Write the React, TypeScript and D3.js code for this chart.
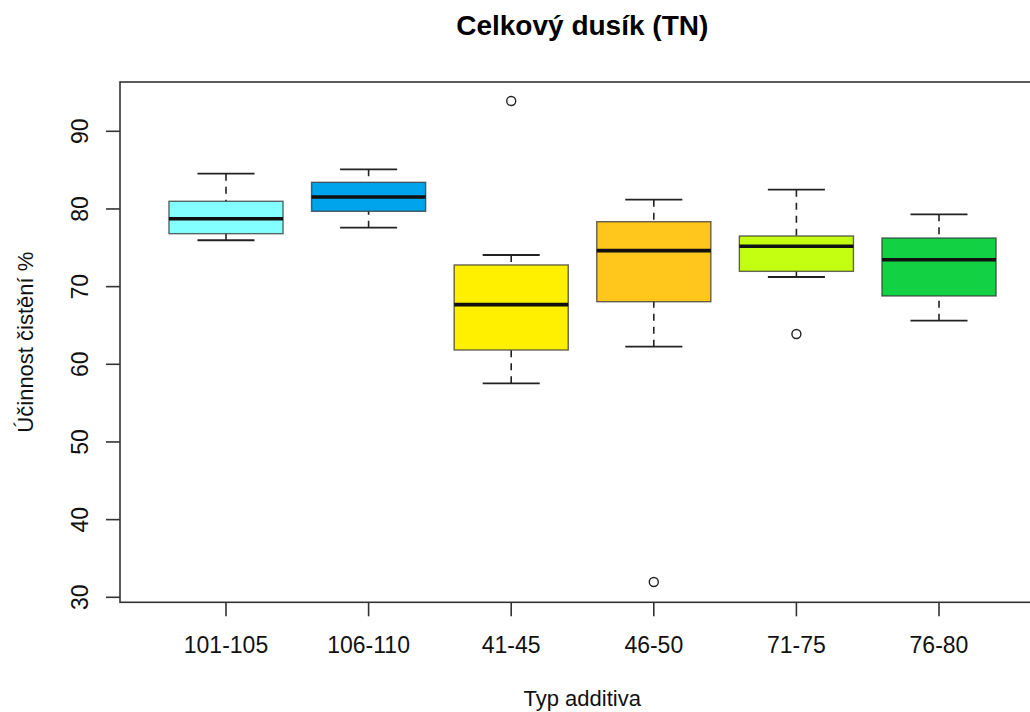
import React from "react";
import * as d3 from "d3";

const categories = ["101-105", "106-110", "41-45", "46-50", "71-75", "76-80"];
const lowerWhisker = [75.97, 77.59, 57.55, 62.27, 71.24, 65.62];
const q1 = [76.82, 79.7, 61.84, 68.06, 71.97, 68.8];
const median = [78.75, 81.54, 67.68, 74.63, 75.19, 73.47];
const q3 = [80.99, 83.43, 72.79, 78.36, 76.52, 76.26];
const upperWhisker = [84.54, 85.11, 74.07, 81.2, 82.48, 79.31];
const outliers: number[][] = [[], [], [93.9], [31.97], [63.9], []];
const boxColors = ["#84FFFF", "#00A4EC", "#FFF000", "#FFC61C", "#C4FF12", "#12D244"];
const yTicks = [30, 40, 50, 60, 70, 80, 90];

const title = "Celkový dusík (TN)";
const xLabel = "Typ additiva";
const yLabel = "Účinnost čistění %";

export default function App() {
  const W = 1030;
  const H = 712;
  const left = 120;
  const top = 82;
  const bottom = 602.3;
  const font = "'Liberation Sans', Arial, sans-serif";

  const y = d3.scaleLinear().domain([30, 90]).range([597.3, 131.3]);
  const x = d3.scalePoint<string>().domain(categories).range([226, 939]);
  const step = x.step();
  const right = (x(categories[categories.length - 1]) as number) + 0.74 * step;
  const boxW = 0.8 * step;
  const capW = 0.4 * step;

  return (
    <svg
      width={W}
      height={H}
      style={{ position: "absolute", left: 0, top: 0, background: "#fff" }}
      fontFamily={font}
    >
      <rect x={0} y={0} width={W} height={H} fill="#fff" />
      <text x={(left + right) / 2} y={35} textAnchor="middle" fontSize={28} fontWeight="bold" fill="#000">
        {title}
      </text>

      {categories.map((c, i) => {
        const cx = x(c) as number;
        return (
          <g key={c}>
            <line x1={cx} x2={cx} y1={y(upperWhisker[i])} y2={y(q3[i])} stroke="#222" strokeWidth={1.6} strokeDasharray="7,6" />
            <line x1={cx} x2={cx} y1={y(lowerWhisker[i])} y2={y(q1[i])} stroke="#222" strokeWidth={1.6} strokeDasharray="7,6" />
            <line x1={cx - capW / 2} x2={cx + capW / 2} y1={y(upperWhisker[i])} y2={y(upperWhisker[i])} stroke="#222" strokeWidth={1.8} />
            <line x1={cx - capW / 2} x2={cx + capW / 2} y1={y(lowerWhisker[i])} y2={y(lowerWhisker[i])} stroke="#222" strokeWidth={1.8} />
            <rect
              x={cx - boxW / 2}
              y={y(q3[i])}
              width={boxW}
              height={y(q1[i]) - y(q3[i])}
              fill={boxColors[i]}
              stroke="#333"
              strokeOpacity={0.75}
              strokeWidth={1.4}
            />
            <line x1={cx - boxW / 2} x2={cx + boxW / 2} y1={y(median[i])} y2={y(median[i])} stroke="#111" strokeWidth={3.6} />
            {outliers[i].map((o, j) => (
              <circle key={j} cx={cx} cy={y(o)} r={4.5} fill="none" stroke="#222" strokeWidth={1.4} />
            ))}
          </g>
        );
      })}

      {/* frame */}
      <rect x={left} y={top} width={right - left} height={bottom - top} fill="none" stroke="#333" strokeWidth={1.6} />

      {/* y axis */}
      {yTicks.map((t) => (
        <g key={t}>
          <line x1={left - 14} x2={left} y1={y(t)} y2={y(t)} stroke="#333" strokeWidth={1.6} />
          <text
            transform={`translate(88,${y(t)}) rotate(-90)`}
            textAnchor="middle"
            fontSize={23}
            fill="#111"
          >
            {t}
          </text>
        </g>
      ))}

      {/* x axis */}
      {categories.map((c) => (
        <g key={c}>
          <line x1={x(c)} x2={x(c)} y1={bottom} y2={bottom + 14} stroke="#333" strokeWidth={1.6} />
          <text x={x(c)} y={653} textAnchor="middle" fontSize={23} fill="#111">
            {c}
          </text>
        </g>
      ))}

      <text x={(left + right) / 2} y={706} textAnchor="middle" fontSize={22} fill="#111">
        {xLabel}
      </text>
      <text transform={`translate(33,${(top + bottom) / 2}) rotate(-90)`} textAnchor="middle" fontSize={22} fill="#111">
        {yLabel}
      </text>
    </svg>
  );
}
